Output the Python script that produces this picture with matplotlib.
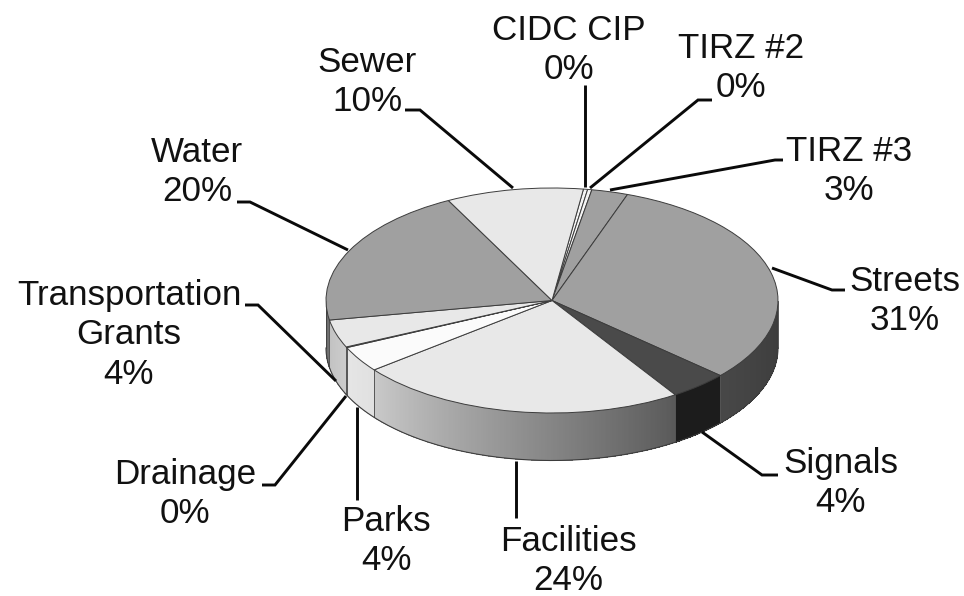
import numpy as np
import matplotlib
matplotlib.use('Agg')
import matplotlib.pyplot as plt

plt.rcParams['font.family'] = ['Liberation Sans', 'DejaVu Sans']

# order is clockwise from the top of the pie
names = ['CIDC CIP', 'TIRZ #2', 'TIRZ #3', 'Streets', 'Signals', 'Facilities', 'Parks',
         'Drainage', 'Transportation\nGrants', 'Water', 'Sewer']
values = [0.3, 0.3, 2.6, 31.2, 4.2, 23.6, 3.7, 0.1, 4.0, 20.2, 9.8]
percents = ['0%', '0%', '3%', '31%', '4%', '24%', '4%', '0%', '4%', '20%', '10%']

top_colors = ['#f4f4f4', '#f4f4f4', '#a0a0a0', '#a0a0a0', '#4a4a4a', '#e8e8e8', '#fbfbfb',
              '#e8e8e8', '#e8e8e8', '#a0a0a0', '#e8e8e8']
# wall gradient, grey level at the visible start and end of each slice
wall_start = [0.9, 0.9, 0.6, 0.23, 0.11, 0.35, 0.88, 0.85, 0.80, 0.45, 0.8]
wall_end = [0.9, 0.9, 0.6, 0.28, 0.11, 0.79, 0.90, 0.85, 0.76, 0.40, 0.8]

label_pos = [(569, 50), (741, 68), (849, 171), (905, 301), (841, 483), (568, 561),
             (386, 541), (185, 494), (129, 335), (197, 172), (367, 82)]
leaders = [
    [(585, 85), (585, 187)],
    [(590, 188), (698, 100), (712, 100)],
    [(610, 190), (775, 160), (783, 160)],
    [(772, 268), (832, 290), (845, 290)],
    [(702, 432), (762, 475), (778, 475)],
    [(516, 461), (516, 518)],
    [(357, 407), (357, 500)],
    [(346, 396), (275, 485), (262, 485)],
    [(336, 381), (258, 305), (245, 305)],
    [(348, 250), (250, 202), (237, 202)],
    [(513, 188), (420, 110), (405, 110)],
]

W, H = 964, 596
cx, cy, rx, ry, depth = 552, 300.5, 226, 112.5, 47.5
start_deg = 8

fig = plt.figure(figsize=(W / 100, H / 100), dpi=100)

# overlay in pixel coordinates, for labels and leader lines
ax_txt = fig.add_axes([0, 0, 1, 1], zorder=2)
ax_txt.set_xlim(0, W)
ax_txt.set_ylim(H, 0)
ax_txt.axis('off')
ax_txt.patch.set_alpha(0)

ax = fig.add_axes([0, 0, 1, 1], zorder=1)
ax.pie(values, colors=top_colors, startangle=90 - start_deg, counterclock=False, radius=1,
       wedgeprops=dict(edgecolor='#3c3c3c', linewidth=0.7, zorder=3))
ax.set_aspect('auto')
ax.set_xlim(-cx / rx, (W - cx) / rx)
ax.set_ylim((cy - H) / ry, cy / ry)
ax.axis('off')

# side wall, only the front half of the ellipse shows
dv = depth / ry
edges = start_deg + np.concatenate([[0], np.cumsum(values)]) * 3.6
for i in range(len(values)):
    a0, a1 = edges[i], edges[i + 1]
    lo, hi = max(a0, 90), min(a1, 270)
    if hi <= lo:
        continue
    steps = np.linspace(lo, hi, max(int((hi - lo) * 2), 2))
    for s0, s1 in zip(steps[:-1], steps[1:]):
        t = ((s0 + s1) / 2 - lo) / (hi - lo)
        g = wall_start[i] + (wall_end[i] - wall_start[i]) * t
        seg = np.radians(np.linspace(s0, s1, 4))
        xs = np.sin(seg)
        ys = np.cos(seg)
        ax.fill(np.r_[xs, xs[::-1]], np.r_[ys, ys[::-1] - dv], color=str(g), lw=0,
                antialiased=False, zorder=1)
    # slice separator
    if 90 < a1 < 270:
        xe, ye = np.sin(np.radians(a1)), np.cos(np.radians(a1))
        ax.plot([xe, xe], [ye, ye - dv], color='#555555', lw=0.7, zorder=2)

# outline of the wall
arc = np.radians(np.linspace(90, 270, 200))
ax.plot(np.sin(arc), np.cos(arc) - dv, color='#3c3c3c', lw=0.8, zorder=2)
ax.plot([1, 1], [0, -dv], color='#3c3c3c', lw=0.6, zorder=2)
ax.plot([-1, -1], [0, -dv], color='#3c3c3c', lw=0.6, zorder=2)

for line in leaders:
    px = [p[0] for p in line]
    py = [p[1] for p in line]
    ax_txt.plot(px, py, color='#0a0a0a', lw=2.1, solid_joinstyle='miter', solid_capstyle='butt')

for name, pct, pos in zip(names, percents, label_pos):
    ax_txt.text(pos[0], pos[1], name + '\n' + pct, ha='center', va='center', fontsize=25.2,
                color='#111111', linespacing=1.26)

fig.savefig('out.png', dpi=100)
